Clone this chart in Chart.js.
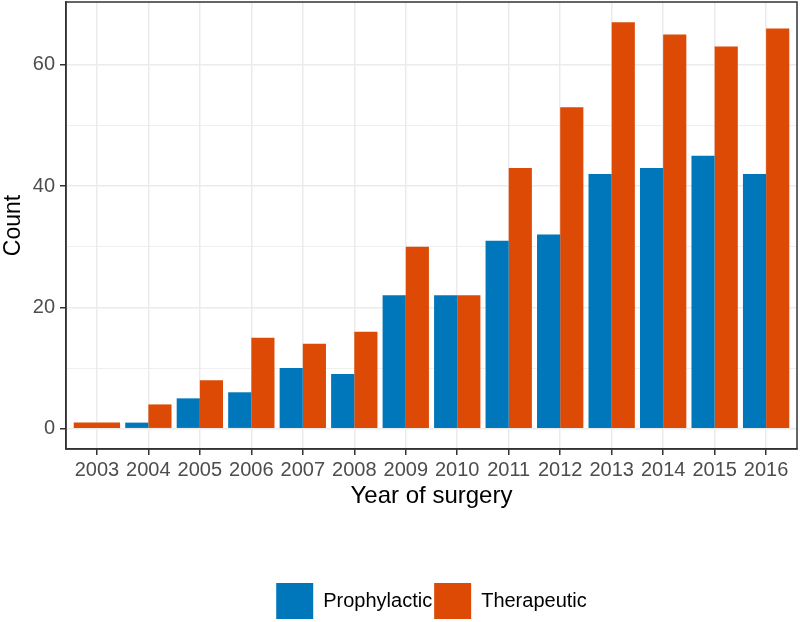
<!DOCTYPE html>
<html lang="en">
<head>
    <meta charset="UTF-8">
    <title>Year of surgery</title>
    <script src="https://cdn.jsdelivr.net/npm/chart.js"></script>
    <style>
        body {
            margin: 0;
            padding: 0;
            background-color: white;
        }
        .chart-container {
            width: 800px;
            height: 622px;
        }
    </style>
</head>
<body>
    <div class="chart-container">
        <canvas id="surgeryChart"></canvas>
    </div>

    <script>
        const years = ['2003', '2004', '2005', '2006', '2007', '2008', '2009',
                       '2010', '2011', '2012', '2013', '2014', '2015', '2016'];
        const prophylactic = [null, 1, 5, 6, 10, 9, 22, 22, 31, 32, 42, 43, 45, 42];
        const therapeutic = [1, 4, 8, 15, 14, 16, 30, 22, 43, 53, 67, 65, 63, 66];
        const yTicks = [0, 10, 20, 30, 40, 50, 60];
        const yLabels = [0, 20, 40, 60];

        const toPoints = (vals) => vals.map((v, i) => ({ x: i, y: v }));

        // panel border like ggplot theme_bw
        const panelBorder = {
            id: 'panelBorder',
            afterLayout(chart) {
                // legend is centred under the panel, not the canvas
                chart.legend.left += 33;
                chart.legend.right += 33;
            },
            afterDraw(chart) {
                const { ctx, chartArea } = chart;
                ctx.save();
                ctx.strokeStyle = '#333333';
                ctx.lineWidth = 1.5;
                ctx.strokeRect(chartArea.left, chartArea.top,
                    chartArea.right - chartArea.left, chartArea.bottom - chartArea.top);
                ctx.restore();
            }
        };

        const ctx = document.getElementById('surgeryChart').getContext('2d');

        new Chart(ctx, {
            type: 'bar',
            data: {
                datasets: [
                    {
                        label: 'Prophylactic',
                        data: toPoints(prophylactic),
                        backgroundColor: '#0077BB'
                    },
                    {
                        label: 'Therapeutic',
                        data: toPoints(therapeutic),
                        backgroundColor: '#DD4A05'
                    }
                ]
            },
            plugins: [panelBorder],
            options: {
                responsive: true,
                maintainAspectRatio: false,
                animation: false,
                skipNull: true,
                barPercentage: 1.0,
                categoryPercentage: 0.9,
                layout: {
                    padding: { top: 2, right: 3, left: 0, bottom: -7 }
                },
                scales: {
                    x: {
                        type: 'linear',
                        offset: false,
                        min: -0.6,
                        max: 13.6,
                        afterBuildTicks: (scale) => {
                            scale.ticks = years.map((_, i) => ({ value: i }));
                        },
                        afterFit: (scale) => {
                            scale.height = 132;
                            scale.paddingLeft = 0;
                            scale.paddingRight = 0;
                        },
                        ticks: {
                            color: '#4D4D4D',
                            font: { family: 'Liberation Sans', size: 20 },
                            padding: 3,
                            maxRotation: 0,
                            autoSkip: false,
                            callback: (value) => years[value]
                        },
                        grid: {
                            offset: false,
                            color: '#EBEBEB',
                            lineWidth: 1.5,
                            tickColor: '#333333',
                            tickLength: 6
                        },
                        border: { color: '#333333', width: 1.5 },
                        title: {
                            display: true,
                            text: 'Year of surgery',
                            color: 'black',
                            font: { family: 'Liberation Sans', size: 24 },
                            padding: { top: 0, bottom: 70 }
                        }
                    },
                    y: {
                        min: -3.35,
                        max: 70.35,
                        afterBuildTicks: (scale) => {
                            scale.ticks = yTicks.map(v => ({ value: v }));
                        },
                        afterFit: (scale) => {
                            scale.width = 66;
                            scale.paddingTop = 0;
                            scale.paddingBottom = 0;
                        },
                        ticks: {
                            color: '#4D4D4D',
                            font: { family: 'Liberation Sans', size: 20 },
                            padding: 5,
                            callback: (value) => yLabels.includes(value) ? value : ''
                        },
                        grid: {
                            color: '#EBEBEB',
                            lineWidth: (c) => yLabels.includes(c.tick && c.tick.value) ? 1.5 : 0.8,
                            tickColor: (c) => yLabels.includes(c.tick && c.tick.value) ? '#333333' : 'rgba(0,0,0,0)',
                            tickLength: 6
                        },
                        border: { color: '#333333', width: 1.5 },
                        title: {
                            display: true,
                            text: 'Count',
                            color: 'black',
                            font: { family: 'Liberation Sans', size: 23 },
                            padding: { top: 0, bottom: 0 }
                        }
                    }
                },
                plugins: {
                    legend: {
                        position: 'bottom',
                        labels: {
                            boxWidth: 37,
                            boxHeight: 36,
                            padding: 2,
                            color: 'black',
                            font: { family: 'Liberation Sans', size: 20 }
                        }
                    },
                    tooltip: { enabled: false }
                }
            }
        });
    </script>
</body>
</html>
